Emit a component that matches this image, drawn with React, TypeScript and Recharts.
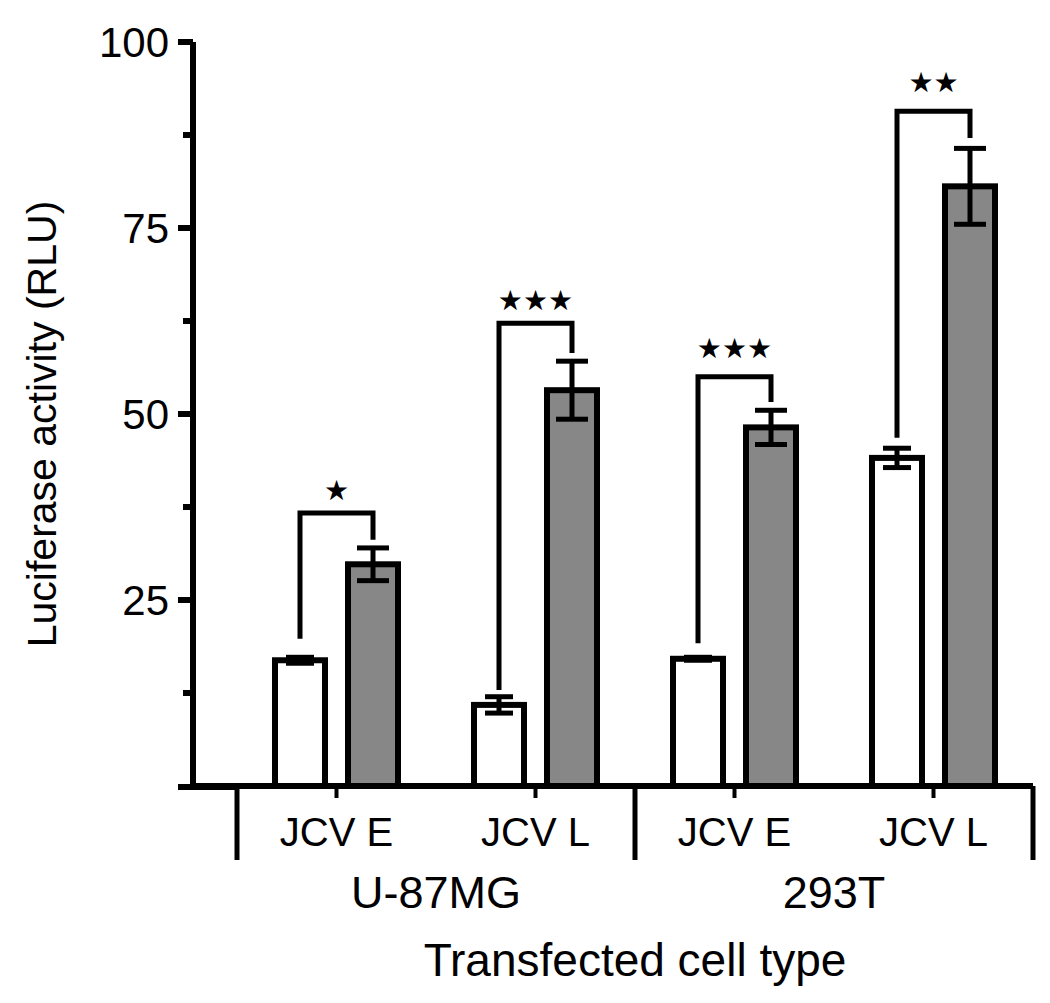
import { BarChart, Bar, XAxis, YAxis, ErrorBar, Label } from 'recharts';

const FONT = '"Liberation Sans", Arial, Helvetica, sans-serif';

// one entry per bar pair, left to right
const categories = ['JCV E', 'JCV L', 'JCV E', 'JCV L'];
const cellTypes = ['U-87MG', '293T'];
const whiteValues = [16.9, 10.9, 17.1, 44.1];
const whiteErrors = [0.4, 1.1, 0.2, 1.3];
const grayValues = [29.8, 53.2, 48.2, 80.6];
const grayErrors = [2.2, 3.9, 2.3, 5.1];

// significance brackets (RLU levels)
const bracketTop = [36.7, 62.2, 55.0, 90.7];
const bracketLeftEnd = [19.8, 12.9, 19.2, 46.8];
const bracketRightEnd = [33.1, 58.2, 51.6, 87.1];
const starLevel = [39.8, 65.3, 58.9, 94.6];
const stars = ['★', '★★★', '★★★', '★★'];

const yTicks = [0, 12.5, 25, 37.5, 50, 62.5, 75, 87.5, 100];

const BAR_SIZE = 50;
const BAR_GAP = 23;

const data = categories.map((c, i) => ({
  id: `${i}`,
  name: c,
  white: whiteValues[i],
  whiteErr: whiteErrors[i],
  gray: grayValues[i],
  grayErr: grayErrors[i],
}));

function YTick(props: any) {
  const { x, y, payload } = props;
  const v = payload.value;
  if (v === 0) return null;
  const major = v % 25 === 0;
  return (
    <g>
      <line x1={x - (major ? 15 : 10)} x2={x} y1={y} y2={y} stroke="#000" strokeWidth={6} />
      {major && (
        <text x={x - 24} y={y} dy={15} textAnchor="end" fontSize={42} fill="#000" fontFamily={FONT}>
          {v}
        </text>
      )}
    </g>
  );
}

function XTick(props: any) {
  const { x, y, payload, index } = props;
  const half = payload.offset ?? 99.5;
  const i = payload.index ?? index;
  return (
    <g>
      {i === 0 && <line x1={x - half - 59} x2={x - half} y1={y + 1} y2={y + 1} stroke="#000" strokeWidth={6} />}
      <line x1={x} x2={x} y1={y} y2={y + 12} stroke="#000" strokeWidth={4} />
      <text x={x} y={y + 60} textAnchor="middle" fontSize={40} fill="#000" fontFamily={FONT}>
        {categories[i]}
      </text>
      {i % 2 === 0 && (
        <>
          <line x1={x - half} x2={x - half} y1={y} y2={y + 74} stroke="#000" strokeWidth={5} />
          <text x={x + half} y={y + 122} textAnchor="middle" fontSize={45} fill="#000" fontFamily={FONT}>
            {cellTypes[i / 2]}
          </text>
        </>
      )}
      {i === categories.length - 1 && (
        <line x1={x + half} x2={x + half} y1={y} y2={y + 74} stroke="#000" strokeWidth={5} />
      )}
    </g>
  );
}

function WhiteBar(props: any) {
  const { x, y, width, height } = props;
  return <rect x={x} y={y} width={width} height={height} fill="#ffffff" stroke="#000" strokeWidth={6} />;
}

function GrayBar(props: any) {
  const { x, y, width, height, index, payload } = props;
  const cx = x + width / 2;
  const wx = cx - width - BAR_GAP;
  const py = (v: number) => y + height - (v / payload.gray) * height;
  const top = py(bracketTop[index]);
  return (
    <g>
      <rect x={x} y={y} width={width} height={height} fill="#878787" stroke="#000" strokeWidth={6} />
      <polyline
        points={`${wx},${py(bracketLeftEnd[index])} ${wx},${top} ${cx},${top} ${cx},${py(bracketRightEnd[index])}`}
        fill="none"
        stroke="#000"
        strokeWidth={5}
      />
      <text
        x={(wx + cx) / 2}
        y={py(starLevel[index]) + 10}
        textAnchor="middle"
        fontSize={28}
        fill="#000"
        fontFamily='"DejaVu Sans", sans-serif'
      >
        {stars[index]}
      </text>
    </g>
  );
}

export default function App() {
  return (
    <div style={{ position: 'absolute', left: 0, top: 0, background: '#fff' }}>
      <BarChart
        width={1050}
        height={1003}
        data={data}
        margin={{ top: 42, right: 17, bottom: 0, left: 0 }}
        barSize={BAR_SIZE}
        barGap={BAR_GAP}
      >
        <XAxis
          dataKey="id"
          padding={{ left: 44, right: 0 }}
          height={217}
          axisLine={{ stroke: '#000', strokeWidth: 6 }}
          tickLine={false}
          tickSize={0}
          tickMargin={0}
          interval={0}
          tick={<XTick />}
        >
          <Label
            content={(p: any) => {
              const vb = p.viewBox || { x: 193, y: 786, width: 840, height: 217 };
              return (
                <text x={vb.x + 44 + (vb.width - 44) / 2} y={vb.y + 190} textAnchor="middle" fontSize={46} fill="#000" fontFamily={FONT}>
                  Transfected cell type
                </text>
              );
            }}
          />
        </XAxis>
        <YAxis
          domain={[0, 100]}
          ticks={yTicks}
          width={193}
          axisLine={{ stroke: '#000', strokeWidth: 6 }}
          tickLine={false}
          tickSize={0}
          tickMargin={0}
          interval={0}
          tick={<YTick />}
        >
          <Label
            content={(p: any) => {
              const vb = p.viewBox || { x: 0, y: 42, width: 193, height: 744 };
              const cy = vb.y + vb.height / 2 + 10;
              return (
                <text transform={`translate(56, ${cy}) rotate(-90)`} textAnchor="middle" fontSize={41} fill="#000" fontFamily={FONT}>
                  Luciferase activity (RLU)
                </text>
              );
            }}
          />
        </YAxis>
        <Bar dataKey="white" fill="#ffffff" shape={<WhiteBar />} isAnimationActive={false}>
          <ErrorBar dataKey="whiteErr" width={14} stroke="#000" strokeWidth={5} direction="y" />
        </Bar>
        <Bar dataKey="gray" fill="#878787" shape={<GrayBar />} isAnimationActive={false}>
          <ErrorBar dataKey="grayErr" width={16} stroke="#000" strokeWidth={5} direction="y" />
        </Bar>
      </BarChart>
    </div>
  );
}
